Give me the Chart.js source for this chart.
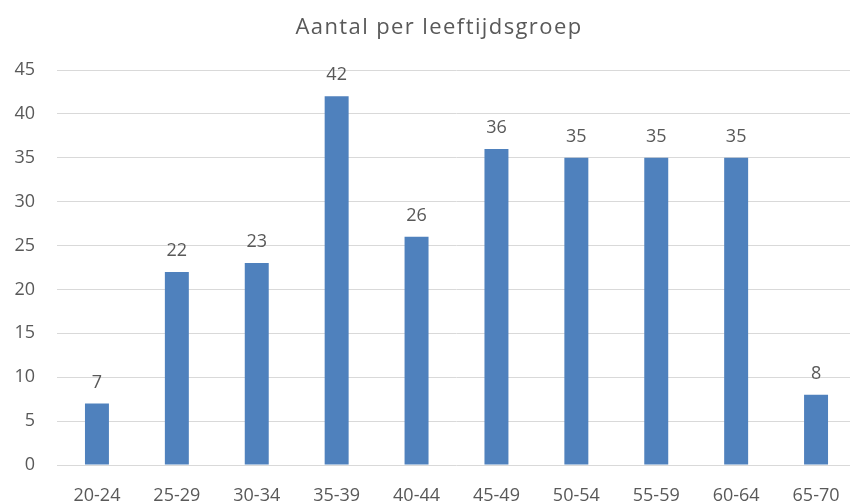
<!DOCTYPE html>
<html>
<head>
<meta charset="utf-8">
<script src="https://cdn.jsdelivr.net/npm/chart.js@4/dist/chart.umd.min.js"></script>
<style>
  html, body { margin: 0; padding: 0; background: #fff; overflow: hidden; }
  #wrap { width: 856px; height: 504px; }
</style>
</head>
<body>
<div id="wrap"><canvas id="chart" width="856" height="504"></canvas></div>
<script>
// age groups and counts
const groups = ['20-24', '25-29', '30-34', '35-39', '40-44', '45-49', '50-54', '55-59', '60-64', '65-70'];
const counts = [7, 22, 23, 42, 26, 36, 35, 35, 35, 8];
const yTicks = [0, 5, 10, 15, 20, 25, 30, 35, 40, 45];
const chartTitle = 'Aantal per leeftijdsgroep';

const textColor = '#595959';
const labelFont = "'Open Sans', sans-serif";

// title drawn by hand so it can get the wider letter spacing of the original
const spacedTitle = {
    id: 'spacedTitle',
    afterDraw(chart) {
        const ctx = chart.ctx;
        ctx.save();
        ctx.fillStyle = textColor;
        ctx.font = '22px ' + labelFont;
        ctx.letterSpacing = '1.4px';
        ctx.textAlign = 'center';
        ctx.textBaseline = 'alphabetic';
        ctx.fillText(chartTitle, 439, 34);
        ctx.restore();
    }
};

// draw the number above each bar
const valueLabels = {
    id: 'valueLabels',
    afterDatasetsDraw(chart) {
        const ctx = chart.ctx;
        const meta = chart.getDatasetMeta(0);
        ctx.save();
        ctx.fillStyle = textColor;
        ctx.font = '18px ' + labelFont;
        ctx.textAlign = 'center';
        ctx.textBaseline = 'alphabetic';
        meta.data.forEach((bar, i) => {
            ctx.fillText(String(counts[i]), bar.x, bar.y - 16);
        });
        ctx.restore();
    }
};

new Chart(document.getElementById('chart'), {
    type: 'bar',
    data: {
        labels: groups,
        datasets: [{
            data: counts,
            backgroundColor: '#4f81bd',
            borderWidth: 0,
            barPercentage: 0.3,
            categoryPercentage: 1
        }]
    },
    options: {
        responsive: false,
        animation: false,
        layout: { padding: { top: 70, left: 0, right: 0, bottom: 0 } },
        plugins: {
            legend: { display: false },
            tooltip: { enabled: false },
            title: { display: false }
        },
        scales: {
            x: {
                grid: { display: false },
                border: { display: false },
                ticks: {
                    color: textColor,
                    font: { family: labelFont, size: 18 },
                    padding: 12,
                    maxRotation: 0
                },
                afterFit(scale) { scale.height = 39; }
            },
            y: {
                min: 0,
                max: 45,
                afterBuildTicks(scale) { scale.ticks = yTicks.map(v => ({ value: v })); },
                grid: { color: '#d9d9d9', lineWidth: 1, drawTicks: false },
                border: { display: false },
                ticks: {
                    color: textColor,
                    font: { family: labelFont, size: 18 },
                    padding: 22
                },
                afterFit(scale) { scale.width = 57; }
            }
        }
    },
    plugins: [valueLabels, spacedTitle]
});
</script>
</body>
</html>
